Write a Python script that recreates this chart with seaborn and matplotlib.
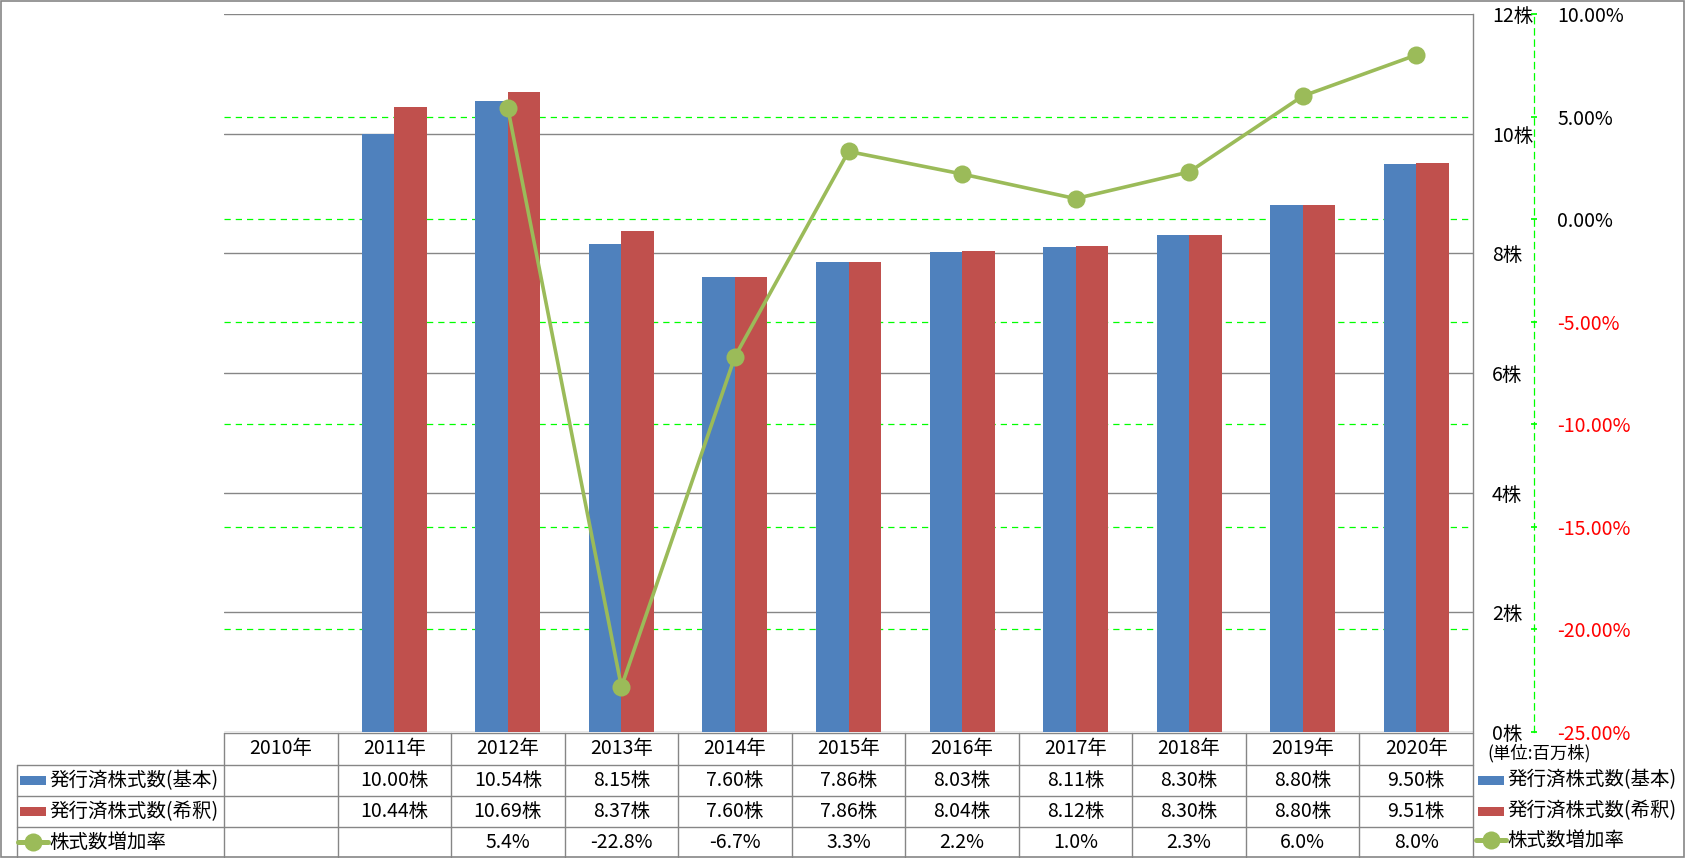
import numpy as np
import pandas as pd
import matplotlib
matplotlib.use('Agg')
import matplotlib.pyplot as plt
import seaborn as sns
from matplotlib.patches import Rectangle
from matplotlib.lines import Line2D

# ---------------- data ----------------
years = ['2010年', '2011年', '2012年', '2013年', '2014年', '2015年',
         '2016年', '2017年', '2018年', '2019年', '2020年']
basic = [np.nan, 10.00, 10.54, 8.15, 7.60, 7.86, 8.03, 8.11, 8.30, 8.80, 9.50]
diluted = [np.nan, 10.44, 10.69, 8.37, 7.60, 7.86, 8.04, 8.12, 8.30, 8.80, 9.51]
growth = [np.nan, np.nan, 5.4, -22.8, -6.7, 3.3, 2.2, 1.0, 2.3, 6.0, 8.0]

name_basic = '発行済株式数(基本)'
name_diluted = '発行済株式数(希釈)'
name_growth = '株式数増加率'
unit_label = '(単位:百万株)'

share_ticks = [0, 2, 4, 6, 8, 10, 12]
share_tick_labels = ['0株', '2株', '4株', '6株', '8株', '10株', '12株']
pct_ticks = [-25, -20, -15, -10, -5, 0, 5, 10]
pct_tick_labels = ['-25.00%', '-20.00%', '-15.00%', '-10.00%', '-5.00%', '0.00%', '5.00%', '10.00%']

BLUE, RED, GREEN = '#4F81BD', '#C0504D', '#9BBB59'
GRID = '#868686'
FS = 14
PX = 0.72  # points per pixel at 100 dpi

sns.set_theme(style='white')
plt.rcParams['font.family'] = ['Noto Sans CJK JP', 'DejaVu Sans']

W, H = 1685, 858
fig = plt.figure(figsize=(W / 100, H / 100), dpi=100)
L, R, T, B = 224, 1473, 14, 732
ax = fig.add_axes([L / W, 1 - B / H, (R - L) / W, (B - T) / H])

df = pd.DataFrame({
    'year': years * 2,
    'series': [name_basic] * len(years) + [name_diluted] * len(years),
    'value': basic + diluted,
})
sns.barplot(data=df, x='year', y='value', hue='series', order=years,
            hue_order=[name_basic, name_diluted], palette=[BLUE, RED],
            width=0.572, gap=0, saturation=1, linewidth=0, ax=ax,
            legend=False, zorder=3)

ax2 = ax.twinx()
sns.lineplot(x=np.arange(len(years)), y=growth, ax=ax2, color=GREEN,
             lw=2.6, marker='o', markersize=13, markeredgewidth=0, zorder=5)

# primary axis (shares)
ax.set_xlim(-0.5, len(years) - 0.5)
ax.set_ylim(share_ticks[0], share_ticks[-1])
ax.set_xticks([])
ax.set_xlabel('')
ax.set_ylabel('')
ax.set_yticks(share_ticks)
ax.set_yticklabels(share_tick_labels)
ax.yaxis.tick_right()
ax.tick_params(axis='y', left=False, right=True, labelleft=False, labelright=True,
               length=0, pad=19 * PX, labelsize=FS, labelcolor='black')
for t in share_ticks:
    ax.axhline(t, color=GRID, lw=1.0, zorder=1)
lo, hi = pct_ticks[0], pct_ticks[-1]
for p in pct_ticks[1:-1]:
    ax.axhline((p - lo) / (hi - lo) * share_ticks[-1], color='#00FF00',
               lw=0.9, ls=(0, (5, 4)), zorder=1.5)
for s in ['top', 'left', 'bottom']:
    ax.spines[s].set_visible(False)
ax.spines['right'].set_color(GRID)
ax.spines['right'].set_linewidth(1.0)

# secondary axis (growth rate)
for s in ['top', 'left', 'bottom']:
    ax2.spines[s].set_visible(False)
ax2.spines['right'].set_position(('outward', 61 * PX))
ax2.spines['right'].set_color('#00FF00')
ax2.spines['right'].set_linestyle((0, (5, 4)))
ax2.spines['right'].set_linewidth(0.9)
ax2.grid(False)
ax2.set_xlim(-0.5, len(years) - 0.5)
ax2.set_ylim(lo, hi)
ax2.set_yticks(pct_ticks)
ax2.set_yticklabels(pct_tick_labels)
ax2.set_ylabel('')
ax2.tick_params(axis='y', left=False, right=True, labelleft=False, labelright=True,
                length=5, direction='inout', color='#00FF00', pad=20 * PX, labelsize=FS)
for tick, v in zip(ax2.yaxis.get_major_ticks(), pct_ticks):
    col = '#FF0000' if v < 0 else 'black'
    tick.label1.set_color(col)
    tick.label2.set_color(col)

# ---------------- data table (overlay in pixel coordinates) ----------------
tax = fig.add_axes([0, 0, 1, 1], zorder=10)
tax.set_xlim(0, W)
tax.set_ylim(H, 0)
tax.axis('off')
tax.patch.set_alpha(0)

cw = (R - L) / len(years)
rows_y = [733, 765, 796, 827, 857]
lx = 17
lc = dict(color=GRID, lw=1.0)
tax.plot([L, R], [rows_y[0], rows_y[0]], **lc)
for y in rows_y[1:4]:
    tax.plot([lx, R], [y, y], **lc)
tax.plot([lx, lx], [rows_y[1], rows_y[-1]], **lc)
for i in range(len(years) + 1):
    x = L + i * cw
    tax.plot([x, x], [rows_y[0], rows_y[-1]], **lc)

centers = [(rows_y[k] + rows_y[k + 1]) / 2 for k in range(4)]
basic_lbl = ['' if np.isnan(v) else f'{v:.2f}株' for v in basic]
diluted_lbl = ['' if np.isnan(v) else f'{v:.2f}株' for v in diluted]
growth_lbl = ['' if np.isnan(v) else f'{v:.1f}%' for v in growth]
for i, yr in enumerate(years):
    xc = L + (i + 0.5) * cw
    for row, txt in enumerate([yr, basic_lbl[i], diluted_lbl[i], growth_lbl[i]]):
        tax.text(xc, centers[row], txt, ha='center', va='center', fontsize=FS, color='black')

def legend_key(x, y, kind, color):
    if kind == 'bar':
        tax.add_patch(Rectangle((x, y - 4.5), 26, 9, color=color, lw=0))
    else:
        tax.add_line(Line2D([x - 2, x + 28], [y, y], color=color, lw=3.6))
        tax.add_line(Line2D([x + 13], [y], color=color, marker='o',
                            markersize=13, markeredgewidth=0))

entries = [(name_basic, 'bar', BLUE), (name_diluted, 'bar', RED), (name_growth, 'line', GREEN)]
for k, (nm, kind, col) in enumerate(entries):
    yc = centers[k + 1]
    legend_key(20, yc, kind, col)
    tax.text(49, yc, nm, ha='left', va='center', fontsize=FS, color='black')

tax.text(1487, 753, unit_label, ha='left', va='center', fontsize=FS - 1.5, color='black')
for k, (nm, kind, col) in enumerate(entries):
    yc = [780, 811, 840][k]
    legend_key(1478, yc, kind, col)
    tax.text(1507, yc, nm, ha='left', va='center', fontsize=FS, color='black')

tax.add_patch(Rectangle((0.5, 0.5), W - 1.5, H - 1.5, fill=False, ec=GRID, lw=1.2))

fig.savefig('out.png', dpi=100)
